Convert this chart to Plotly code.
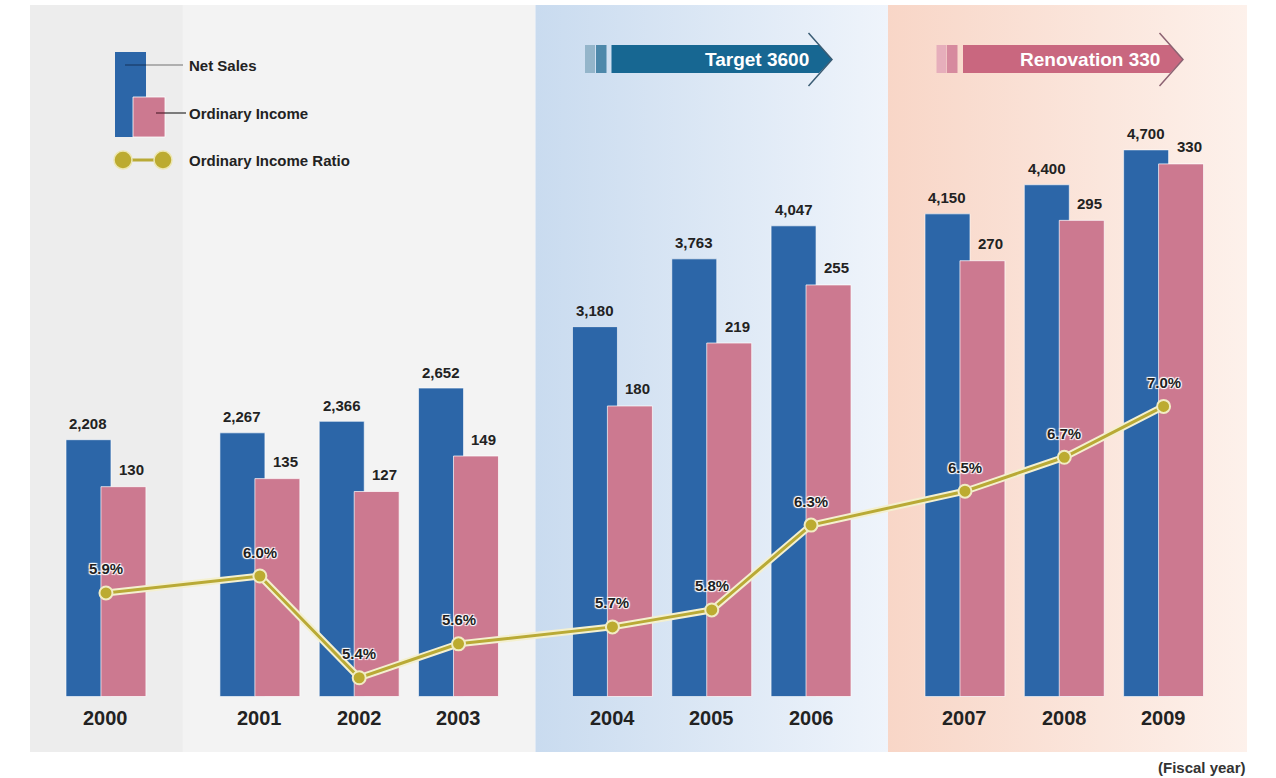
import plotly.graph_objects as go

# ---------------- data ----------------
years = ["2000", "2001", "2002", "2003", "2004", "2005", "2006", "2007", "2008", "2009"]
net_sales = [2208, 2267, 2366, 2652, 3180, 3763, 4047, 4150, 4400, 4700]
ordinary_income = [130, 135, 127, 149, 180, 219, 255, 270, 295, 330]
income_ratio = [5.9, 6.0, 5.4, 5.6, 5.7, 5.8, 6.3, 6.5, 6.7, 7.0]
period_group = [0, 1, 1, 1, 2, 2, 2, 3, 3, 3]
plan_labels = ["Target 3600", "Renovation 330"]
legend_labels = ["Net Sales", "Ordinary Income", "Ordinary Income Ratio"]

# ---------------- layout helpers ----------------
W, H = 1276, 778
PL, PR, PT, PB = 30, 1247, 5, 752
GAP = 0.55
pos = [i + GAP * g for i, g in enumerate(period_group)]
X_LO, X_HI = -0.765, 11.49


def fx(px):
    return (px - PL) / (PR - PL)


def fy(py):
    return (PB - py) / (PB - PT)


BLUE = "#2c66a8"
PINK = "#cc7990"
GOLD = "#b9aa36"
FONT = "Liberation Sans"
TXT = "#222222"

fig = go.Figure()

# ---------------- background period bands ----------------
bounds = [X_LO]
for g in range(1, 4):
    last_prev = max(p for p, gg in zip(pos, period_group) if gg == g - 1)
    first_next = min(p for p, gg in zip(pos, period_group) if gg == g)
    bounds.append((last_prev + first_next) / 2)
bounds.append(X_HI)

band_styles = [
    dict(fillcolor="#ededed"),
    dict(fillcolor="#f3f3f3"),
    dict(fillgradient=dict(type="horizontal", colorscale=[[0, "#c9dbef"], [1, "#eff4fb"]])),
    dict(fillgradient=dict(type="horizontal", colorscale=[[0, "#f8d6c7"], [1, "#fdf1eb"]])),
]
for g in range(4):
    x0, x1 = bounds[g], bounds[g + 1]
    fig.add_trace(go.Scatter(
        x=[x0, x1, x1, x0, x0], y=[0, 0, 1, 1, 0], mode="lines",
        line=dict(width=0), fill="toself", hoverinfo="skip", showlegend=False,
        xaxis="x", yaxis="y", **band_styles[g]))

# ---------------- bars ----------------
BW = 0.453
SHIFT = 0.176
fig.add_trace(go.Bar(
    x=pos, y=net_sales, name="Net Sales", width=BW, offset=-SHIFT - BW / 2,
    marker=dict(color=BLUE, line=dict(color="rgba(255,255,255,0.6)", width=1)),
    yaxis="y2", showlegend=False))
fig.add_trace(go.Bar(
    x=pos, y=ordinary_income, name="Ordinary Income", width=BW, offset=SHIFT - BW / 2,
    marker=dict(color=PINK, line=dict(color="rgba(255,255,255,0.7)", width=1)),
    yaxis="y3", showlegend=False))

# ---------------- ratio line ----------------
fig.add_trace(go.Scatter(
    x=pos, y=income_ratio, mode="lines", line=dict(color="#f4f0cf", width=7),
    yaxis="y4", hoverinfo="skip", showlegend=False))
fig.add_trace(go.Scatter(
    x=pos, y=income_ratio, mode="lines+markers", name="Ordinary Income Ratio",
    line=dict(color=GOLD, width=3),
    marker=dict(size=13, color="#bcab30", line=dict(color="#f1ecc4", width=2)),
    yaxis="y4", showlegend=False))

annotations = []
halo = "1px 1px 1px #fff, -1px -1px 1px #fff, 1px -1px 1px #fff, -1px 1px 1px #fff"

for p, yr, ns, oi, r in zip(pos, years, net_sales, ordinary_income, income_ratio):
    annotations.append(dict(x=p - SHIFT, y=ns, xref="x", yref="y2", text=f"{ns:,}",
                            showarrow=False, yshift=16, xanchor="center", yanchor="middle",
                            font=dict(family=FONT, size=15, color=TXT, weight="bold")))
    annotations.append(dict(x=p + SHIFT, y=oi, xref="x", yref="y3", text=f"{oi}",
                            showarrow=False, yshift=17, xshift=8,
                            xanchor="center", yanchor="middle",
                            font=dict(family=FONT, size=15, color=TXT, weight="bold")))
    annotations.append(dict(x=p, y=r, xref="x", yref="y4", text=f"{r:.1f}%",
                            showarrow=False, yshift=24, xanchor="center", yanchor="middle",
                            font=dict(family=FONT, size=15, color=TXT, weight="bold",
                                      shadow=halo)))
    annotations.append(dict(x=p, y=fy(718), xref="x", yref="paper", text=yr,
                            showarrow=False, xanchor="center", yanchor="middle",
                            font=dict(family=FONT, size=20, color=TXT, weight="bold")))

# ---------------- shapes: legend & plan arrows ----------------
shapes = []


def rect(x0, y0, x1, y1, color, line=None):
    shapes.append(dict(type="rect", xref="paper", yref="paper",
                       x0=fx(x0), x1=fx(x1), y0=fy(y1), y1=fy(y0),
                       fillcolor=color,
                       line=line if line else dict(width=0)))


def seg(x0, y0, x1, y1, color, width):
    shapes.append(dict(type="line", xref="paper", yref="paper",
                       x0=fx(x0), x1=fx(x1), y0=fy(y0), y1=fy(y1),
                       line=dict(color=color, width=width)))


def path(points, color=None, line=None, close=True):
    d = "M " + " L ".join(f"{fx(a):.5f},{fy(b):.5f}" for a, b in points)
    if close:
        d += " Z"
    shapes.append(dict(type="path", xref="paper", yref="paper", path=d,
                       fillcolor=color if color else "rgba(0,0,0,0)",
                       line=line if line else dict(width=0)))


# legend
rect(115, 52, 146, 137, BLUE)
rect(133, 97, 165, 137, PINK, dict(color="rgba(255,255,255,0.8)", width=1))
seg(125, 65, 146, 65, "#1d4474", 1.5)
seg(146, 65, 183, 65, "#9a9a9a", 1.5)
seg(156, 113, 165, 113, "#6d3343", 1.5)
seg(165, 113, 186, 113, "#555555", 1.5)
seg(123, 160, 163, 160, GOLD, 3)
for cx in (123, 163):
    shapes.append(dict(type="circle", xref="paper", yref="paper",
                       x0=fx(cx - 9), x1=fx(cx + 9), y0=fy(169), y1=fy(151),
                       fillcolor="#bcab30", line=dict(color="#ece6b0", width=1.5)))
for lab, ly in zip(legend_labels, (65, 113, 160)):
    annotations.append(dict(x=fx(187), y=fy(ly), xref="paper", yref="paper", text=lab,
                            showarrow=False, xanchor="left", yanchor="middle",
                            font=dict(family=FONT, size=15, color=TXT, weight="bold")))


def plan_arrow(xs1, xs2, xmain, xtip, colors, edge, label):
    c1, c2, c3 = colors
    rect(xs1, 45, xs1 + 10, 73, c1)
    rect(xs2, 45, xs2 + 10.5, 73, c2)
    knee = xtip - 13
    path([(xmain, 45), (knee, 45), (xtip, 59.5), (knee, 73), (xmain, 73)], c3)
    path([(xtip - 23.5, 33), (xtip, 59.5), (xtip - 23.5, 86)],
         line=dict(color=edge, width=1.5), close=False)
    annotations.append(dict(x=fx(xtip - 21), y=fy(59), xref="paper", yref="paper",
                            text=label, showarrow=False, xanchor="right", yanchor="middle",
                            font=dict(family=FONT, size=19, color="white", weight="bold")))


plan_arrow(585, 596, 611.5, 832, ("#94b5ca", "#4d88aa", "#176792"), "#3a5c74", plan_labels[0])
plan_arrow(936.5, 947, 963, 1183, ("#e6aebb", "#d68a9e", "#c9677f"), "#8c6272", plan_labels[1])

annotations.append(dict(x=fx(1248), y=fy(767), xref="paper", yref="paper",
                        text="(Fiscal year)", showarrow=False, xanchor="right", yanchor="middle",
                        font=dict(family=FONT, size=15, color="#333333", weight="bold")))

# ---------------- axes & layout ----------------
BASE = 696.5
S_NET = 0.1163
S_INC = 1.614
ratio_a, ratio_b = 1593.6, 169.6

fig.update_layout(
    width=W, height=H,
    margin=dict(l=PL, r=W - PR, t=PT, b=H - PB, pad=0),
    paper_bgcolor="white", plot_bgcolor="white",
    barmode="overlay", showlegend=False, hovermode=False,
    xaxis=dict(range=[X_LO, X_HI], visible=False, fixedrange=True),
    yaxis=dict(range=[0, 1], visible=False, fixedrange=True),
    yaxis2=dict(overlaying="y", visible=False,
                range=[(BASE - PB) / S_NET, (BASE - PT) / S_NET]),
    yaxis3=dict(overlaying="y", visible=False,
                range=[(BASE - PB) / S_INC, (BASE - PT) / S_INC]),
    yaxis4=dict(overlaying="y", visible=False,
                range=[(ratio_a - PB) / ratio_b, (ratio_a - PT) / ratio_b]),
    shapes=shapes,
    annotations=annotations,
)

fig.write_html("out.html")
